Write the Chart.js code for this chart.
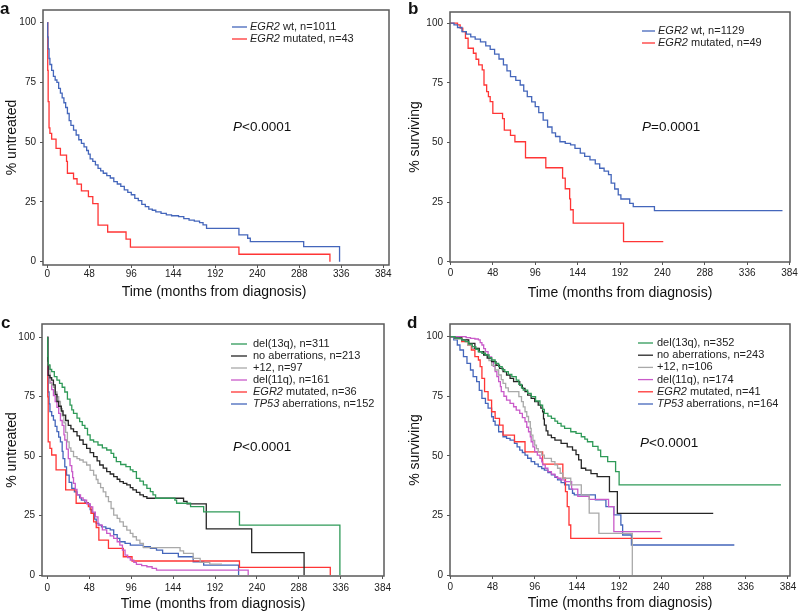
<!DOCTYPE html>
<html>
<head>
<meta charset="utf-8">
<script src="https://cdn.jsdelivr.net/npm/chart.js@4.4.1/dist/chart.umd.min.js"></script>
<style>
  body { margin: 0; background: #fff; }
  #wrap { position: relative; width: 800px; height: 612px; }
  canvas { position: absolute; }
</style>
</head>
<body>
<div id="wrap">
  <canvas id="pa" width="400" height="306" style="left:0;top:0"></canvas>
  <canvas id="pb" width="400" height="306" style="left:400px;top:0"></canvas>
  <canvas id="pc" width="400" height="306" style="left:0;top:306px"></canvas>
  <canvas id="pd" width="400" height="306" style="left:400px;top:306px"></canvas>
</div>
<script>
// tick labels
var monthTicks = [0, 48, 96, 144, 192, 240, 288, 336, 384];
var pctTicks = [0, 25, 50, 75, 100];

// panel a: time to treatment, [months, % untreated]
var aWt = [[0,100],[0.5,94],[1,89],[2,85],[3,82.5],[5,80],[7,77.5],[9,76],[11,75],[13,72.5],[15,70.5],[17,68.5],[19,66.5],[21,64.5],[23,62],[25,59],[27,57],[30,55],[33,53],[36,51],[39,49.5],[42,48],[45,46.5],[47,45],[49,43],[52,42],[55,40.5],[58,39],[61,38],[64,37],[68,36],[72,35],[76,33.5],[80,32.5],[84,31.5],[88,30],[92,29],[96,28],[100,26.5],[104,25.5],[108,24],[112,23],[116,22],[120,21.5],[124,20.8],[130,20.2],[136,19.6],[142,19.2],[150,18.8],[156,18],[162,17.4],[168,17],[174,16.3],[178,15.4],[182,13.9],[219,11.2],[229,9.8],[232,8.4],[293,6.3],[334,0]];
var aMut = [[0,100],[0.5,80],[1,67],[2,56],[3,53.7],[5,51.3],[10,47.4],[15,44.6],[22,42],[23,37],[30,34.7],[34,32.4],[39,29.6],[47,27.2],[52,24.3],[58,15.3],[69,12.4],[90,9.4],[95,6.1],[219,3.1],[323,0]];

// panel b: overall survival, [months, % surviving]
var bWt = [[0,100],[4,99.3],[8,98.2],[13,96.5],[18,95.4],[23,94.3],[28,93.3],[34,92.2],[40,90.5],[45,89],[50,87],[55,85],[60,82.5],[64,80],[68,77.6],[74,76],[79,74.1],[83,71.5],[87,69.2],[92,67],[96,65],[100,62.5],[105,59.4],[110,56.5],[115,54],[119,52.5],[124,50.3],[130,49.6],[136,49],[141,47.5],[147,45.5],[152,44.2],[158,42.7],[164,41],[169,39.2],[174,38],[179,36.5],[182,33],[186,30.5],[190,28],[193,26.3],[203,24.5],[207,23.1],[231,21.4],[376,21.4]];
var bMut = [[0,100],[8,99.3],[11,97.9],[14,96.5],[17,93.7],[20,89.5],[26,87.4],[29,84.9],[32,82.5],[36,80.4],[38,74.1],[41,71.3],[43,69.2],[45,67.1],[48,62.2],[59,60],[61,55.2],[68,53],[73,50.3],[85,43.6],[108,39.4],[127,35.1],[130,30.6],[135,26.4],[136,21.8],[139,16.2],[196,8.4],[241,8.4]];

// panel c: time to treatment by cytogenetic group
var cDel13q = [[0,100],[0.5,92],[1,88.4],[3,86.5],[5,85.6],[8,83.5],[11,82],[14,80.6],[17,79],[20,77],[23,74],[26,71.5],[28,69.5],[30,68],[34,66],[37,64.5],[40,63],[43,61.7],[46,59],[49,56.8],[53,56],[58,54.7],[63,53.5],[68,52.6],[73,51.2],[76,49.5],[79,47.7],[84,46.5],[90,45.6],[95,44.2],[98,43.5],[102,40.7],[106,39.5],[110,37.9],[114,36.5],[118,35.1],[121,33.7],[124,32.3],[146,31.5],[148,30.2],[164,28.8],[179,26.6],[220,21],[335,0]];
var cNoAb = [[0,100],[0.5,90],[1,84],[3,83],[5,82],[7,80],[9,76],[11,73],[13,71],[16,69],[18,67.3],[21,65],[24,63],[27,61.5],[30,60.3],[34,58.5],[37,56.8],[41,55],[45,53.3],[49,51.5],[53,49.8],[57,48],[60,46.3],[64,45],[68,43.5],[72,42.5],[76,41.4],[80,40.3],[83,39.3],[87,38.6],[91,37.9],[95,36.8],[98,35.8],[102,34.8],[106,33.7],[110,33],[114,32.3],[156,31],[160,29.9],[182,19.4],[234,9.4],[294,0]];
var cPlus12 = [[0,100],[0.5,92],[1,88],[3,80.6],[5,80],[7,79],[9,77],[11,75],[13,73],[15,70],[17,67],[19,64],[21,60],[23,56],[25,53.5],[27,52],[30,49.8],[34,49],[37,48.4],[41,47.5],[45,46.3],[49,44],[53,42],[56,40.2],[58,38.6],[61,36.8],[64,35],[67,33],[70,30.9],[73,28],[76,25.2],[80,23.8],[83,22.4],[87,20.5],[91,18.9],[95,17.5],[98,16.1],[102,14.7],[106,13.3],[110,11.5],[152,10.2],[156,9.1],[167,7],[175,5.3],[186,4.6],[200,4.6]];
var cDel11q = [[0,100],[0.5,90],[1,84],[3,81],[5,78],[7,75.5],[9,73],[11,70.5],[13,68],[15,65],[17,63],[19,59],[20,56.8],[22,53],[24,49],[26,46],[28,43.5],[29,41],[30,38.6],[32,36],[34,33.7],[38,32.5],[41,31.5],[45,30],[49,28.7],[52,26.5],[55,24.5],[58,21],[63,19],[68,17.5],[72,16.5],[76,15.4],[80,14],[83,12.6],[86,10.5],[89,8.4],[92,7.3],[95,6.3],[99,5.3],[102,4.5],[108,4],[114,3.5],[120,2.8],[125,2.1],[230,0]];
var cEgr2 = [[0,100],[0.5,75],[1,56],[3,53.3],[5,50.5],[10,44.2],[21,35.8],[33,30.2],[47,28.8],[50,26],[53,22.4],[56,20],[59,14.7],[70,11.2],[87,7.7],[97,5.9],[220,3.2],[324,0]];
var cTp53 = [[0,100],[0.5,85],[1,77],[2,72],[3,68.7],[5,67],[7,65.2],[9,62.5],[11,60.3],[13,58],[15,56],[17,52],[18,49],[20,45.5],[22,42],[25,39],[28,36.5],[31,35],[34,33.7],[37,32.5],[39,31.5],[43,30.5],[47,29.5],[49,27.5],[51,26],[54,23.5],[56,21.7],[59,21],[62,20.3],[67,19.6],[72,19],[76,17],[80,15.4],[83,14],[89,13.3],[95,12.6],[106,12.6],[110,11.9],[118,11.2],[125,10.5],[132,9.1],[150,7.7],[167,5.6],[179,4.2],[219,0]];

// panel d: overall survival by cytogenetic group
var dDel13q = [[0,100],[5,99.5],[9,99.3],[13,98.6],[17,97.9],[21,96.9],[25,95.8],[29,94.7],[32,93.7],[36,93],[40,92.3],[44,91.2],[47,90.2],[51,88.8],[55,87.4],[59,86.2],[62,85.3],[66,84.2],[70,83.2],[75,81.8],[78,80],[81,78.5],[83,77.6],[88,76.2],[92,74.8],[97,73],[102,71.3],[105,69.5],[107,67.8],[111,66.7],[115,65.7],[119,64.6],[122,63.6],[126,62.5],[130,61.5],[137,60.1],[143,59.4],[149,58],[153,57],[156,55.9],[162,54],[168,52.4],[171,49.7],[179,47.6],[188,43.4],[192,37.8],[376,37.8]];
var dNoAb = [[0,100],[5,99.5],[13,98.6],[21,97.2],[28,95.1],[33,93.7],[38,92.3],[42,91],[47,89.5],[52,88],[56,86.7],[60,85.3],[64,83.9],[68,82.5],[72,81.1],[79,79.7],[82,78.3],[85,76.9],[88,75.5],[92,74.1],[96,72.7],[100,71.3],[103,70],[105,68.5],[106,65.5],[107,62.9],[109,60.5],[111,58.7],[115,57.6],[119,56.6],[126,55.2],[133,53.8],[139,52.4],[143,50.5],[146,48.3],[149,44.8],[154,44],[160,42.5],[167,41.3],[181,35],[190,25.9],[299,25.9]];
var dPlus12 = [[0,100],[5,99],[13,98.6],[20,96.5],[25,95.1],[32,93.5],[40,92.3],[44,90],[47,88],[51,86],[55,83.9],[58,82],[60,80.4],[63,78.5],[66,76.9],[75,76.9],[78,74.8],[81,72.7],[83,70.5],[85,68.5],[87,66.5],[89,64.3],[91,61.5],[92,58.7],[94,56.5],[96,54.5],[98,53],[100,51.7],[104,50.3],[107,48.9],[115,47.6],[119,46.2],[122,44.8],[125,42.7],[128,40.6],[137,37.8],[149,33.6],[158,26],[169,17.5],[207,0]];
var dDel11q = [[0,100],[12,100],[18,99.6],[23,99.3],[28,99],[32,98.6],[34,97.5],[36,96.5],[38,95],[40,93.7],[43,91.5],[47,89.5],[49,87.5],[51,85.3],[53,83.2],[55,81.1],[57,79],[58,76.9],[61,75],[64,73.4],[68,72],[72,70.6],[75,69.2],[79,67.8],[82,66],[85,64.3],[87,62],[89,60.1],[91,58],[92,55.9],[94,53.8],[96,51.7],[99,50.3],[102,49],[104,47.5],[105,46.2],[108,44.8],[111,43.4],[115,42.3],[119,41.3],[122,40.6],[126,39.9],[130,39.2],[138,36],[145,33],[158,31.7],[180,28.7],[186,18.2],[239,18.2]];
var dEgr2 = [[0,100],[13,97.9],[20,96.5],[24,94.4],[28,91.6],[32,90.2],[34,87.4],[36,82.5],[39,76.9],[43,73.4],[47,68.5],[51,65.7],[56,62.9],[60,58.7],[73,55.9],[85,51.7],[105,46.5],[128,40.6],[131,35],[133,28.7],[135,21],[137,15.4],[241,15.4]];
var dTp53 = [[0,100],[4,98.6],[8,96.5],[11,94.4],[15,91.6],[19,88.8],[23,86],[26,83.2],[30,81.1],[33,77.5],[36,74.1],[40,72],[43,70],[47,66.4],[49,64.5],[51,62.9],[55,60.1],[60,58],[64,57.3],[68,56.6],[73,55.2],[76,53.8],[79,52.4],[82,51.4],[85,50.3],[88,49],[92,47.6],[96,46.5],[100,45.5],[104,44.7],[107,44],[111,43],[115,42],[119,41],[122,39.9],[126,38.8],[130,37.8],[135,36],[139,34.3],[141,33.6],[165,31.5],[177,28.7],[186,25.2],[194,21],[196,16.8],[206,12.6],[323,12.6]];

// legend texts: [italic part, plain part]
var abLegendA = [['EGR2', ' wt, n=1011'], ['EGR2', ' mutated, n=43']];
var abLegendB = [['EGR2', ' wt, n=1129'], ['EGR2', ' mutated, n=49']];
var cdLegendC = [['', 'del(13q), n=311'], ['', 'no aberrations, n=213'], ['', '+12, n=97'], ['', 'del(11q), n=161'], ['EGR2', ' mutated, n=36'], ['TP53', ' aberrations, n=152']];
var cdLegendD = [['', 'del(13q), n=352'], ['', 'no aberrations, n=243'], ['', '+12, n=106'], ['', 'del(11q), n=174'], ['EGR2', ' mutated, n=41'], ['TP53', ' aberrations, n=164']];

var BLUE = '#4466bb', RED = '#ff3535', GREEN = '#2f9a58', BLACK = '#262626', GREY = '#a9a9a9', PINK = '#c95ac9';
var FONT = '"Liberation Sans", Arial, Helvetica, sans-serif';

function deco(p) {
  return {
    id: 'deco',
    afterDraw: function (chart) {
      var ctx = chart.ctx, ca = chart.chartArea;
      ctx.save();
      ctx.strokeStyle = '#5a5a5a';
      ctx.lineWidth = 1.5;
      ctx.strokeRect(ca.left, ca.top, ca.right - ca.left, ca.bottom - ca.top);

      ctx.fillStyle = '#111';
      ctx.textAlign = 'left';
      ctx.textBaseline = 'alphabetic';
      ctx.font = 'bold 17px ' + FONT;
      ctx.fillText(p.letter, p.letterX, p.letterY);

      ctx.font = '14px ' + FONT;
      ctx.textAlign = 'center';
      ctx.textBaseline = 'middle';
      ctx.fillText('Time (months from diagnosis)', p.xTitleX, p.xTitleY);
      ctx.save();
      ctx.translate(p.yTitleX, (ca.top + ca.bottom) / 2);
      ctx.rotate(-Math.PI / 2);
      ctx.fillText(p.yTitle, 0, 0);
      ctx.restore();

      // P value
      ctx.textAlign = 'left';
      ctx.font = 'italic 13.5px ' + FONT;
      ctx.fillText('P', p.pX, p.pY);
      var w = ctx.measureText('P').width;
      ctx.font = '13.5px ' + FONT;
      ctx.fillText(p.pText, p.pX + w, p.pY);

      // legend
      p.legend.forEach(function (e, i) {
        var y = p.legY + i * p.legStep;
        ctx.strokeStyle = chart.data.datasets[i].borderColor;
        ctx.lineWidth = 1.3;
        ctx.beginPath();
        ctx.moveTo(p.legX, y);
        ctx.lineTo(p.legX + p.legLen, y);
        ctx.stroke();
        var x = p.legX + p.legLen + p.legGap;
        ctx.fillStyle = '#222';
        ctx.font = 'italic 11px ' + FONT;
        ctx.fillText(e[0], x, y);
        x += ctx.measureText(e[0]).width;
        ctx.font = '11px ' + FONT;
        ctx.fillText(e[1], x, y);
      });
      ctx.restore();
    }
  };
}

function makePanel(id, series, colors, p) {
  new Chart(document.getElementById(id), {
    type: 'line',
    data: {
      datasets: series.map(function (s, i) {
        return {
          data: s.map(function (q) { return { x: q[0], y: q[1] }; }),
          borderColor: colors[i],
          borderWidth: 1.3,
          pointRadius: 0,
          stepped: true,
          fill: false
        };
      })
    },
    options: {
      responsive: false,
      animation: false,
      events: [],
      layout: { padding: { left: 0, top: p.area[1], right: 400 - p.area[2], bottom: 0 } },
      plugins: { legend: { display: false }, tooltip: { enabled: false } },
      scales: {
        x: {
          type: 'linear', min: p.xMin, max: p.xMax,
          afterBuildTicks: function (s) { s.ticks = monthTicks.map(function (v) { return { value: v }; }); },
          afterFit: function (s) { s.height = 306 - p.area[3]; },
          ticks: { autoSkip: false, maxRotation: 0, padding: p.tickPad, color: '#222', font: { size: 10, family: FONT } },
          grid: { drawOnChartArea: false, drawTicks: true, tickLength: 3, color: '#555' },
          border: { display: false }
        },
        y: {
          type: 'linear', min: p.yMin, max: p.yMax,
          afterBuildTicks: function (s) { s.ticks = pctTicks.map(function (v) { return { value: v }; }); },
          afterFit: function (s) { s.width = p.area[0]; },
          ticks: { padding: 4, color: '#222', font: { size: 10, family: FONT } },
          grid: { drawOnChartArea: false, drawTicks: true, tickLength: 3, color: '#555' },
          border: { display: false }
        }
      }
    },
    plugins: [deco(p)]
  });
}

makePanel('pa', [aWt, aMut], [BLUE, RED], {
  area: [43, 10, 389, 265], xMin: -4.9, xMax: 390.5, yMin: -1.4, yMax: 105.3, tickPad: 0,
  letter: 'a', letterX: 0, letterY: 14, xTitleX: 214, xTitleY: 292, yTitle: '% untreated', yTitleX: 12,
  pText: '<0.0001', pX: 233, pY: 127,
  legend: abLegendA, legX: 232, legY: 27, legStep: 12, legLen: 15, legGap: 3
});
makePanel('pb', [bWt, bMut], [BLUE, RED], {
  area: [50, 12, 390, 262], xMin: -0.5, xMax: 384.5, yMin: -0.1, yMax: 104.7, tickPad: 2,
  letter: 'b', letterX: 8, letterY: 14, xTitleX: 220, xTitleY: 293, yTitle: '% surviving', yTitleX: 15,
  pText: '=0.0001', pX: 242, pY: 127,
  legend: abLegendB, legX: 242, legY: 31, legStep: 12, legLen: 13, legGap: 3
});
makePanel('pc', [cDel13q, cNoAb, cPlus12, cDel11q, cEgr2, cTp53], [GREEN, BLACK, GREY, PINK, RED, BLUE], {
  area: [42, 18, 384, 270], xMin: -6.1, xMax: 385.5, yMin: -0.4, yMax: 105.6, tickPad: 3,
  letter: 'c', letterX: 1, letterY: 22, xTitleX: 213, xTitleY: 298, yTitle: '% untreated', yTitleX: 12,
  pText: '<0.0001', pX: 233, pY: 141,
  legend: cdLegendC, legX: 231, legY: 38, legStep: 12, legLen: 16, legGap: 6
});
makePanel('pd', [dDel13q, dNoAb, dPlus12, dDel11q, dEgr2, dTp53], [GREEN, BLACK, GREY, PINK, RED, BLUE], {
  area: [50, 18, 390, 270], xMin: -0.3, xMax: 386.3, yMin: -0.4, yMax: 105.3, tickPad: 2,
  letter: 'd', letterX: 7, letterY: 22, xTitleX: 220, xTitleY: 297, yTitle: '% surviving', yTitleX: 15,
  pText: '<0.0001', pX: 240, pY: 137,
  legend: cdLegendD, legX: 238, legY: 37, legStep: 12.2, legLen: 15, legGap: 4
});
</script>
</body>
</html>
